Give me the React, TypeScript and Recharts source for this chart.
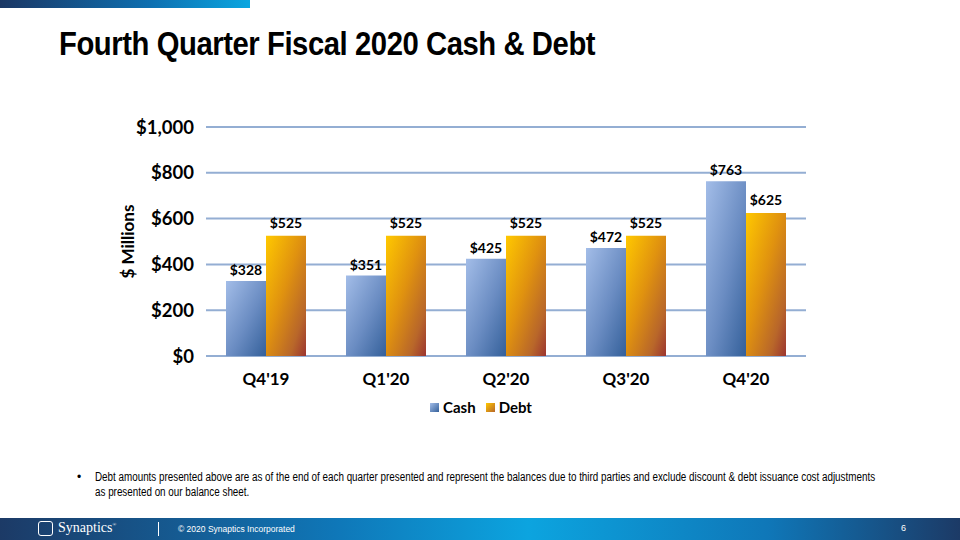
import { BarChart, Bar, XAxis, YAxis, CartesianGrid, LabelList } from 'recharts';

const quarters = ["Q4'19", "Q1'20", "Q2'20", "Q3'20", "Q4'20"];
const cash = [328, 351, 425, 472, 763];
const debt = [525, 525, 525, 525, 625];
const yTicks = [0, 200, 400, 600, 800, 1000];

const data = quarters.map((q, i) => ({ quarter: q, cash: cash[i], debt: debt[i] }));

const calibri = 'Lato, "Open Sans", "DejaVu Sans", sans-serif';
const arial = '"Liberation Sans", Arial, sans-serif';

const fmtMoney = (v: number) => '$' + v.toLocaleString('en-US');

export default function App() {
  return (
    <div style={{ position: 'absolute', left: 0, top: 0, width: 960, height: 540, background: '#fff', overflow: 'hidden' }}>
      <div style={{ position: 'absolute', left: 0, top: 0, width: 250, height: 8, background: 'linear-gradient(90deg, #1b3764 0%, #0e6fb0 60%, #0aa6e0 100%)' }} />
      <div style={{ position: 'absolute', left: 59, top: 24, fontFamily: arial, fontWeight: 700, fontSize: 34, color: '#000', letterSpacing: -0.5, whiteSpace: 'nowrap', transform: 'scaleX(0.86)', transformOrigin: 'left top' }}>
        Fourth Quarter Fiscal 2020 Cash &amp; Debt
      </div>

      <div style={{ position: 'absolute', left: 0, top: 0 }}>
        <BarChart width={960} height={540} data={data} margin={{ top: 127, right: 154, bottom: 154, left: 126 }} barCategoryGap={20} barGap={0}>
          <defs>
            <linearGradient id="cashGrad" x1="0" y1="0" x2="1" y2="1">
              <stop offset="0%" stopColor="#a3bde8" />
              <stop offset="55%" stopColor="#6a8cc2" />
              <stop offset="100%" stopColor="#34609a" />
            </linearGradient>
            <linearGradient id="debtGrad" x1="0" y1="0" x2="1" y2="1">
              <stop offset="0%" stopColor="#ffc800" />
              <stop offset="45%" stopColor="#e0920f" />
              <stop offset="80%" stopColor="#b8662a" />
              <stop offset="100%" stopColor="#9c3530" />
            </linearGradient>
          </defs>
          <CartesianGrid vertical={false} stroke="#94aed3" strokeWidth={2} />
          <XAxis dataKey="quarter" axisLine={false} tickLine={false} height={30} tick={{ fill: '#000', fontSize: 17, fontWeight: 700, fontFamily: calibri }} tickMargin={11} />
          <YAxis
            width={80}
            domain={[0, 1000]}
            ticks={yTicks}
            axisLine={false}
            tickLine={false}
            tickFormatter={fmtMoney}
            tick={{ fill: '#000', fontSize: 18.5, fontWeight: 700, fontFamily: calibri }}
            tickMargin={6}
            label={{ value: '$ Millions', angle: -90, position: 'insideLeft', offset: 2, style: { fill: '#000', fontSize: 17, fontWeight: 700, fontFamily: calibri, textAnchor: 'middle' } }}
          />
          <Bar dataKey="cash" fill="url(#cashGrad)" isAnimationActive={false}>
            <LabelList dataKey="cash" position="top" offset={6} formatter={(v: any) => fmtMoney(v)} style={{ fill: '#000', fontSize: 14, fontWeight: 700, fontFamily: calibri }} />
          </Bar>
          <Bar dataKey="debt" fill="url(#debtGrad)" isAnimationActive={false}>
            <LabelList dataKey="debt" position="top" offset={8} formatter={(v: any) => fmtMoney(v)} style={{ fill: '#000', fontSize: 14, fontWeight: 700, fontFamily: calibri }} />
          </Bar>
        </BarChart>
      </div>

      <div style={{ position: 'absolute', left: 0, top: 398, width: 960, display: 'flex', justifyContent: 'center', gap: 10, fontFamily: calibri, fontWeight: 700, fontSize: 15, color: '#000', paddingLeft: 2, boxSizing: 'border-box' }}>
        <span style={{ display: 'flex', alignItems: 'center', gap: 4 }}>
          <span style={{ width: 9, height: 9, background: 'linear-gradient(135deg, #a3bde8, #34609a)' }} />Cash
        </span>
        <span style={{ display: 'flex', alignItems: 'center', gap: 4 }}>
          <span style={{ width: 9, height: 9, background: 'linear-gradient(135deg, #ffc800, #b8662a)' }} />Debt
        </span>
      </div>

      <div style={{ position: 'absolute', left: 77, top: 470, fontFamily: arial, fontSize: 12, lineHeight: '15px', color: '#000' }}>•</div>
      <div style={{ position: 'absolute', left: 95, top: 470, fontFamily: arial, fontSize: 12, lineHeight: '15px', color: '#000', whiteSpace: 'nowrap', transform: 'scaleX(0.82)', transformOrigin: 'left top' }}>
        Debt amounts presented above are as of the end of each quarter presented and represent the balances due to third parties and exclude discount &amp; debt issuance cost adjustments
        <br />
        as presented on our balance sheet.
      </div>

      <div style={{ position: 'absolute', left: 0, top: 518, width: 960, height: 22, background: 'linear-gradient(90deg, #1c3a66 0%, #0f77b8 35%, #0ca4df 55%, #0f77b8 80%, #1c3a66 100%)' }}>
        <div style={{ position: 'absolute', left: 38, top: 3, width: 15, height: 15, border: '1.5px solid #fff', borderRadius: 3, boxSizing: 'border-box' }} />
        <div style={{ position: 'absolute', left: 58, top: 2, fontFamily: '"Liberation Serif", "DejaVu Serif", serif', fontSize: 14, color: '#fff' }}>Synaptics<sup style={{ fontSize: 5 }}>®</sup></div>
        <div style={{ position: 'absolute', left: 158, top: 4, width: 1, height: 14, background: '#fff' }} />
        <div style={{ position: 'absolute', left: 178, top: 6, fontFamily: arial, fontSize: 8.5, color: '#fff' }}>© 2020 Synaptics Incorporated</div>
        <div style={{ position: 'absolute', left: 901, top: 5, fontFamily: arial, fontSize: 9, color: '#fff' }}>6</div>
      </div>
    </div>
  );
}
